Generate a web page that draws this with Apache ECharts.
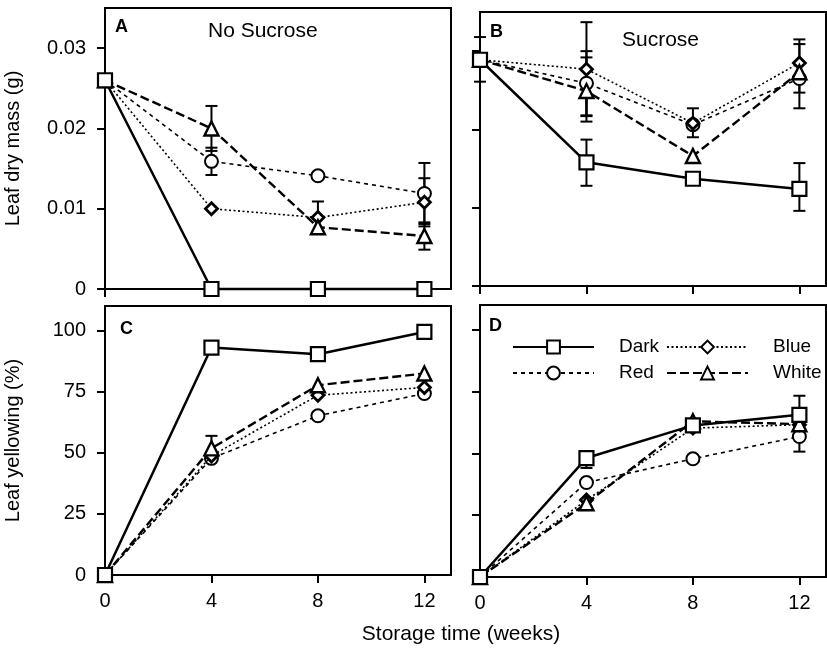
<!DOCTYPE html>
<html>
<head>
<meta charset="utf-8">
<script src="https://cdn.jsdelivr.net/npm/echarts@6/dist/echarts.min.js"></script>
<style>
  html, body { margin: 0; padding: 0; background: #fff; }
  #chart { width: 827px; height: 649px; }
</style>
</head>
<body>
<div id="chart"></div>
<script>
// storage time (weeks) and tick labels
const weeks = [0, 4, 8, 12];
const xTicks = [0, 4, 8, 12];
const massTicks = [0, 0.01, 0.02, 0.03];
const yellowTicks = [0, 25, 50, 75, 100];
const names = ['Dark', 'Blue', 'Red', 'White'];

// A: leaf dry mass, no sucrose
const darkA  = [0.026, 0, 0, 0];
const blueA  = [0.026, 0.0100, 0.0089, 0.0108];
const redA   = [0.026, 0.0159, 0.0141, 0.0119];
const whiteA = [0.026, 0.0200, 0.0077, 0.0066];
// B: leaf dry mass, sucrose
const darkB  = [0.0289, 0.0158, 0.0137, 0.0124];
const blueB  = [0.0289, 0.0277, 0.0208, 0.0285];
const redB   = [0.0289, 0.0259, 0.0206, 0.0265];
const whiteB = [0.0289, 0.0249, 0.0166, 0.0273];
// C: leaf yellowing, no sucrose
const darkC  = [0, 93.0, 90.3, 99.4];
const blueC  = [0, 48.7, 73.5, 76.7];
const redC   = [0, 47.7, 65.1, 74.2];
const whiteC = [0, 51.8, 77.6, 82.4];
// D: leaf yellowing, sucrose
const darkD  = [0, 48.1, 61.3, 65.6];
const blueD  = [0, 31.1, 60.2, 61.6];
const redD   = [0, 38.2, 47.8, 56.8];
const whiteD = [0, 29.8, 63.0, 61.8];

// error bars: [week, mean, plus, minus] (0 = side not visible)
const errA = [
  [4, 0.0200, 0.0028, 0.0028], [4, 0.0159, 0.0017, 0.0017],
  [8, 0.0089, 0.0020, 0],
  [12, 0.0119, 0.0038, 0.0038], [12, 0.0108, 0.0030, 0.0030], [12, 0.0066, 0.0017, 0.0017]
];
const errB = [
  [0, 0.0289, 0.0029, 0.0028],
  [4, 0.0158, 0.0029, 0.0030], [4, 0.0277, 0.0060, 0.0060],
  [4, 0.0259, 0.0041, 0.0041], [4, 0.0249, 0.0043, 0.0039],
  [8, 0.0208, 0.0019, 0.0018],
  [12, 0.0124, 0.0033, 0.0028], [12, 0.0285, 0.0030, 0],
  [12, 0.0273, 0.0036, 0.0026], [12, 0.0265, 0, 0.0038]
];
const errC = [[4, 51.8, 5.1, 0]];
const errD = [[4, 48.1, 0, 4.0], [12, 65.6, 7.7, 0], [12, 56.8, 0, 6.1]];

const FONT = 'Liberation Sans, Arial, Helvetica, sans-serif';
const styles = {
  Dark:  { symbol: 'rect', size: 14, border: 2.2, line: { width: 2.5, type: 'solid' } },
  Blue:  { symbol: 'diamond', size: 12, border: 2.8, line: { width: 1.6, type: [2, 2.5] } },
  Red:   { symbol: 'circle', size: 13, border: 2, line: { width: 1.6, type: [4, 4] } },
  White: { symbol: 'triangle', size: 14, border: 2.4, line: { width: 2.4, type: [9, 4] } }
};
const drawOrder = ['Red', 'Blue', 'White', 'Dark'];

function lineSeries(name, vals, idx) {
  const s = styles[name];
  return {
    name: name, type: 'line', xAxisIndex: idx, yAxisIndex: idx,
    data: weeks.map((w, i) => [w, vals[i]]),
    symbol: s.symbol, symbolSize: s.size, clip: false,
    lineStyle: { color: '#000', width: s.line.width, type: s.line.type },
    itemStyle: { color: '#fff', borderColor: '#000', borderWidth: s.border },
    z: 3 + drawOrder.indexOf(name), animation: false
  };
}

function errRender(params, api) {
  const x = api.value(0), y = api.value(1), up = api.value(2), dn = api.value(3);
  const pHi = api.coord([x, y + up]);
  const pLo = api.coord([x, y - dn]);
  const st = { stroke: '#000', lineWidth: 2 };
  const kids = [{ type: 'line', shape: { x1: pLo[0], y1: pLo[1], x2: pHi[0], y2: pHi[1] }, style: st }];
  if (up > 0) kids.push({ type: 'line', shape: { x1: pHi[0] - 6, y1: pHi[1], x2: pHi[0] + 6, y2: pHi[1] }, style: st });
  if (dn > 0) kids.push({ type: 'line', shape: { x1: pLo[0] - 6, y1: pLo[1], x2: pLo[0] + 6, y2: pLo[1] }, style: st });
  return { type: 'group', children: kids };
}

function errSeries(data, idx) {
  return {
    type: 'custom', xAxisIndex: idx, yAxisIndex: idx, data: data,
    encode: { x: 0, y: 1 }, renderItem: errRender, z: 2, animation: false, silent: true
  };
}

function xAxis(idx, showLabels) {
  return {
    type: 'value', gridIndex: idx, min: 0, max: 13,
    axisLine: { onZero: false, lineStyle: { color: '#000', width: 2 } },
    axisTick: { length: 8, customValues: xTicks, lineStyle: { color: '#000', width: 2 } },
    axisLabel: { show: showLabels, customValues: xTicks, margin: 16, fontSize: 20, color: '#000', fontFamily: FONT },
    splitLine: { show: false }
  };
}

function yAxis(idx, max, ticks, showLabels, title) {
  return {
    type: 'value', gridIndex: idx, min: 0, max: max,
    name: title, nameLocation: 'middle', nameGap: 82,
    nameTextStyle: { fontSize: 20, color: '#000', fontFamily: FONT },
    axisLine: { onZero: false, lineStyle: { color: '#000', width: 2 } },
    axisTick: { length: 8, customValues: ticks, lineStyle: { color: '#000', width: 2 } },
    axisLabel: {
      show: showLabels, customValues: ticks, margin: 19, fontSize: 20, color: '#000', fontFamily: FONT,
      formatter: v => (v === 0 ? '0' : (max < 1 ? v.toFixed(2) : String(v)))
    },
    splitLine: { show: false }
  };
}

const gridBase = { show: true, borderColor: '#000', borderWidth: 2, containLabel: false };
const panels = [
  [darkA, blueA, redA, whiteA, errA],
  [darkB, blueB, redB, whiteB, errB],
  [darkC, blueC, redC, whiteC, errC],
  [darkD, blueD, redD, whiteD, errD]
];

const series = [];
panels.forEach((p, idx) => {
  series.push(errSeries(p[4], idx));
  names.forEach((n, k) => series.push(lineSeries(n, p[k], idx)));
});

function label(text, x, y, size, bold) {
  return {
    type: 'text', x: x, y: y, silent: true,
    style: { text: text, fill: '#000', font: (bold ? 'bold ' : '') + size + 'px ' + FONT, textAlign: 'left', textVerticalAlign: 'middle' }
  };
}

const chart = echarts.init(document.getElementById('chart'), null, { renderer: 'canvas' });
chart.setOption({
  backgroundColor: '#fff',
  animation: false,
  grid: [
    Object.assign({ left: 105, top: 8, width: 346, height: 281 }, gridBase),
    Object.assign({ left: 480, top: 12, width: 346, height: 274 }, gridBase),
    Object.assign({ left: 105, top: 306, width: 346, height: 269 }, gridBase),
    Object.assign({ left: 480, top: 305, width: 346, height: 272 }, gridBase)
  ],
  xAxis: [xAxis(0, false), xAxis(1, false), xAxis(2, true), xAxis(3, true)],
  yAxis: [
    yAxis(0, 0.035, massTicks, true, 'Leaf dry mass (g)'),
    yAxis(1, 0.035, massTicks, false, ''),
    yAxis(2, 110, yellowTicks, true, 'Leaf yellowing (%)'),
    yAxis(3, 110, yellowTicks, false, '')
  ],
  legend: {
    data: names, left: 512, top: 334, width: 320, padding: 0, itemGap: 0,
    itemWidth: 81, itemHeight: 16, selectedMode: false,
    textStyle: { fontSize: 19, color: '#000', fontFamily: FONT, width: 47, padding: [0, 0, 0, 20], lineHeight: 26 }
  },
  graphic: [
    label('A', 115, 27, 18, true),
    label('B', 490, 32, 18, true),
    label('C', 120, 329, 18, true),
    label('D', 489, 326, 18, true),
    label('No Sucrose', 208, 31, 21, false),
    label('Sucrose', 622, 40, 21, false),
    { type: 'text', x: 461, y: 634, silent: true,
      style: { text: 'Storage time (weeks)', fill: '#000', font: '21px ' + FONT, textAlign: 'center', textVerticalAlign: 'middle' } }
  ],
  series: series
});
</script>
</body>
</html>
